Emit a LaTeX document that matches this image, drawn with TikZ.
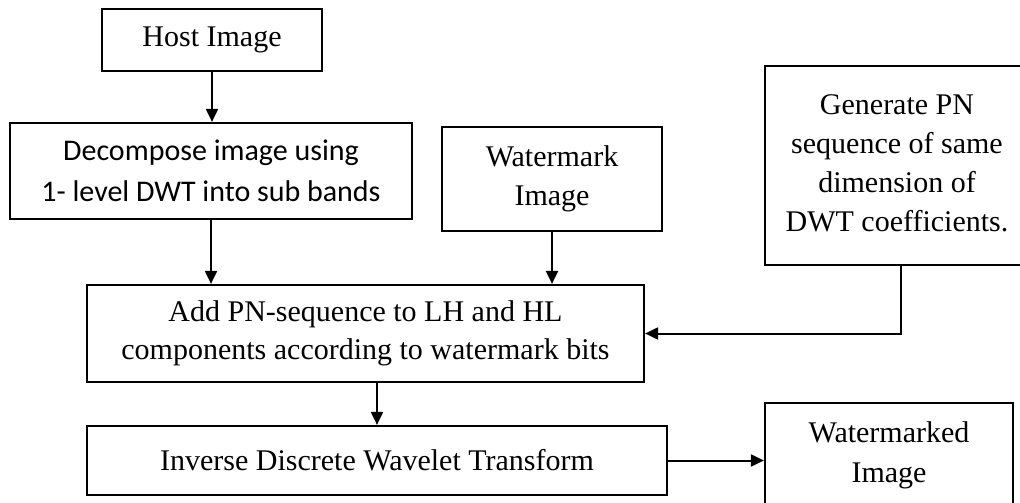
\documentclass[tikz,border=0pt]{standalone}
\usepackage{fontspec}
\setmainfont{Liberation Serif}
\newfontfamily\calfont{Carlito}
\usetikzlibrary{arrows.meta}

\begin{document}
\begin{tikzpicture}[x=1pt,y=-1pt,
  box/.style={draw=black, line width=2.2pt, rectangle, inner sep=0pt,
    align=center, font=\fontsize{30}{38.5}\selectfont},
  sansbox/.style={box, font=\calfont\fontsize{30}{41}\selectfont},
  flow/.style={draw=black, line width=2pt, -{Triangle[length=13pt,width=12pt]}}]

\useasboundingbox (0,0) rectangle (1020,503);
\clip (0,0) rectangle (1020,503);
\fill[white] (0,0) rectangle (1020,503);

% processing blocks
\node[box, minimum width=220pt, minimum height=62pt] (host) at (212,40)
  {\raisebox{-3pt}{Host Image}};
\node[sansbox, minimum width=402pt, minimum height=96pt] (dec) at (211,171)
  {Decompose image using\\1- level DWT into sub bands};
\node[box, minimum width=220pt, minimum height=104pt] (wm) at (552,179)
  {Watermark\\Image};
\node[box, minimum width=264pt, minimum height=199pt] (gen) at (897,165.5)
  {\raisebox{10pt}{\fontsize{30}{39}\selectfont\begin{tabular}{@{}c@{}}Generate PN\\sequence of same\\dimension of\\DWT coefficients.\end{tabular}}};
\node[box, minimum width=557pt, minimum height=97pt] (add) at (365.5,333.5)
  {Add PN-sequence to LH and HL\\components according to watermark bits};
\node[box, minimum width=580pt, minimum height=69pt] (inv) at (377,460.5)
  {Inverse Discrete Wavelet Transform};
\node[box, minimum width=248pt, minimum height=103pt] (wmd) at (889,454.5)
  {\raisebox{4pt}{\fontsize{30}{40}\selectfont\begin{tabular}{@{}c@{}}Watermarked\\Image\end{tabular}}};

% connectors
\draw[flow] (host.south) -- (host.south |- dec.north);
\draw[flow] (dec.south) -- (dec.south |- add.north);
\draw[flow] (wm.south) -- (wm.south |- add.north);
\draw[flow] ([xshift=4pt]gen.south) |- (add.east);
\draw[flow] (inv.north |- add.south) -- (inv.north);
\draw[flow] (inv.east) -- (inv.east -| wmd.west);
\end{tikzpicture}
\end{document}
